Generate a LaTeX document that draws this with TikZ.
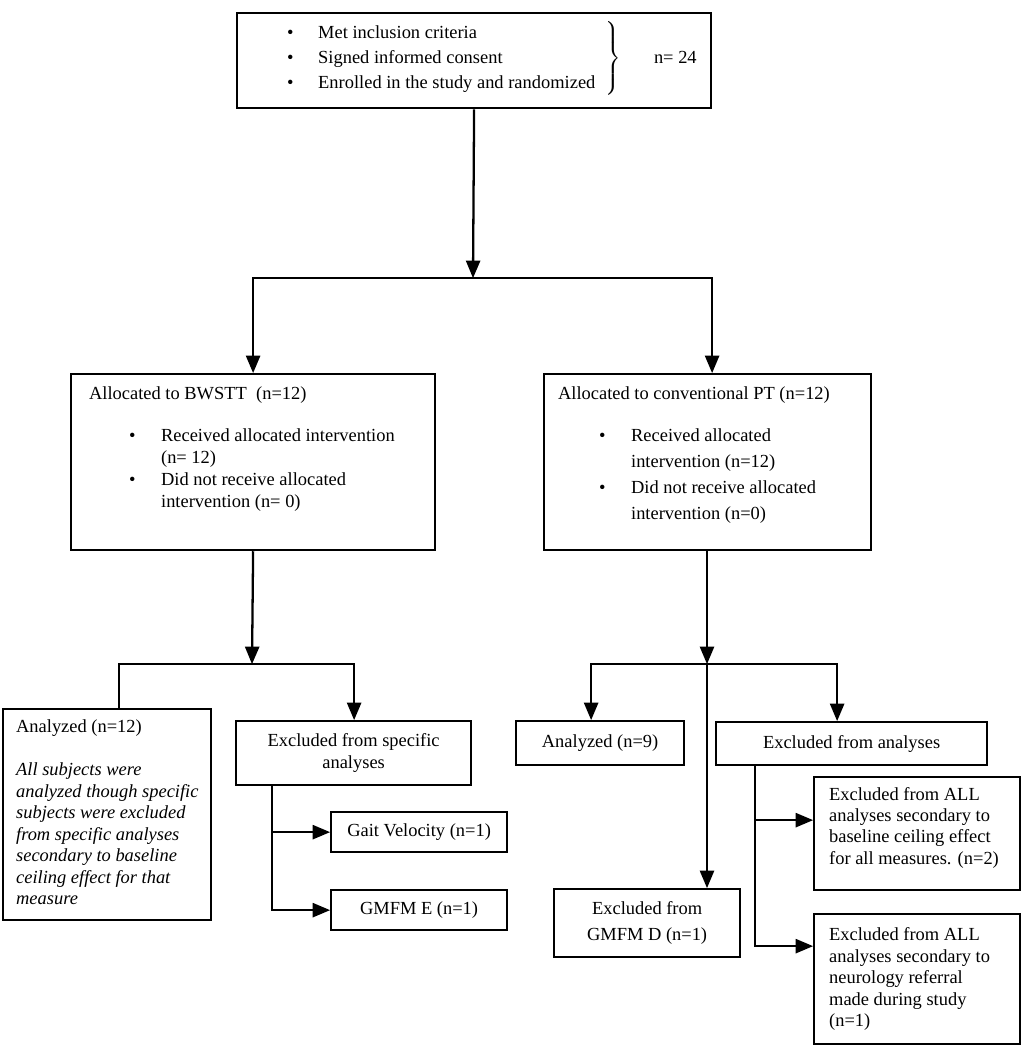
\documentclass[tikz,border=0pt]{standalone}
\usepackage{fontspec}
\setmainfont{Liberation Serif}
\usepackage{tikz}
\usetikzlibrary{arrows}

% box contents: width, height, vertical position, text
\newcommand{\cellbox}[4]{\begin{minipage}[t][#2][#3]{#1}#4\end{minipage}}
% one bullet paragraph: indent of the text, text
\newcommand{\bitem}[2]{{\setlength{\leftskip}{#1}\noindent\llap{\makebox[0.64cm][l]{\textbullet}}#2\par}}

\begin{document}
\begin{tikzpicture}[x=0.02cm,y=-0.02cm]
            \tikzstyle{box}=[draw,line width=1.3pt,anchor=north west,inner sep=0pt,font=\fontsize{10.5}{12.2}\selectfont]
            \tikzstyle{wire}=[line width=1.3pt]
            \tikzstyle{arr}=[line width=1.3pt,-triangle 45]
            \useasboundingbox (0,0) rectangle (1034,1050);

            \node[box] (enrol) at (236,12) {\cellbox{9.48cm}{1.9cm}{c}{\renewcommand{\arraystretch}{1.16}%
                \hspace*{0.96cm}$\left.\begin{tabular}{@{}l@{}}
                \makebox[0.62cm][l]{\textbullet}Met inclusion criteria\\
                \makebox[0.62cm][l]{\textbullet}Signed informed consent\\
                \makebox[0.62cm][l]{\textbullet}Enrolled in the study and randomized
                \end{tabular}\hspace{0.2cm}\right\}$\hspace{0.66cm}n= 24\par\vspace*{0.08cm}}};

            \node[box] (bwstt) at (70,373) {\cellbox{7.28cm}{3.52cm}{t}{\fontsize{10.5}{12.5}\selectfont
                \vspace*{0.26cm}\hspace*{0.36cm}Allocated to BWSTT\ \ (n=12)\par\vspace{0.4cm}
                \bitem{1.8cm}{Received allocated intervention\\(n= 12)}
                \bitem{1.8cm}{Did not receive allocated\\intervention (n= 0)}}};
            \node[box] (cpt) at (543,373) {\cellbox{6.54cm}{3.52cm}{t}{
                \vspace*{0.26cm}\hspace*{0.28cm}Allocated to conventional PT (n=12)\par\vspace{0.32cm}
                \fontsize{10.5}{14.7}\selectfont
                \bitem{1.74cm}{Received allocated\\intervention (n=12)}
                \bitem{1.74cm}{Did not receive allocated\\intervention (n=0)}}};

            \node[box] (an12) at (2,708) {\cellbox{4.16cm}{4.22cm}{t}{\setlength{\leftskip}{0.26cm}
                \vspace*{0.22cm}Analyzed (n=12)\par\vspace{0.43cm}
                \itshape All subjects were\\analyzed though specific\\subjects were excluded\\from specific analyses\\secondary to baseline\\ceiling effect for that\\measure}};
            \node[box] (exspec) at (235,720) {\cellbox{4.7cm}{1.28cm}{c}{\centering Excluded from specific\\analyses}};
            \node[box] (gait) at (330,811) {\cellbox{3.52cm}{0.8cm}{c}{\centering Gait Velocity (n=1)}};
            \node[box] (gmfme) at (330,889) {\cellbox{3.52cm}{0.8cm}{c}{\centering GMFM E (n=1)}};

            \node[box] (an9) at (515,720) {\cellbox{3.36cm}{0.88cm}{c}{\centering Analyzed (n=9)}};
            \node[box] (exan) at (715,721) {\cellbox{5.42cm}{0.86cm}{c}{\centering Excluded from analyses}};
            \node[box] (gmfmd) at (553,888) {\cellbox{3.72cm}{1.36cm}{c}{\fontsize{10.5}{14.7}\selectfont\centering Excluded from\\GMFM D (n=1)}};
            \node[box] (exall1) at (813,776) {\cellbox{4.12cm}{2.26cm}{c}{\setlength{\leftskip}{0.3cm}
                Excluded from ALL\\analyses secondary to\\baseline ceiling effect\\for all measures. (n=2)\par\vspace*{0.24cm}}};
            \node[box] (exall2) at (813,913) {\cellbox{4.12cm}{2.6cm}{c}{\setlength{\leftskip}{0.3cm}
                Excluded from ALL\\analyses secondary to\\neurology referral\\made during study\\(n=1)}};

            \coordinate (split1) at (473,278);
            \coordinate (split2) at (252,664);
            \coordinate (split3) at (707,664);

            \draw[arr] (enrol.south) -- (split1);
            \draw[arr] (split1) -| ([xshift=0.09cm]cpt.north);
            \draw[arr] (split1) -| (bwstt.north);

            \draw[arr] (bwstt.south) -- (split2);
            \draw[wire] (split2) -| ([xshift=0.24cm]an12.north);
            \draw[arr] (split2) -| ([xshift=0.01cm]exspec.north);
            \draw[arr] ([xshift=0.74cm]exspec.south west) |- (gait.west);
            \draw[arr] ([xshift=0.74cm]exspec.south west) |- (gmfme.west);

            \draw[arr] (cpt.south -| split3) -- (split3);
            \draw[arr] (split3) -| ([xshift=-0.18cm]an9.north);
            \draw[arr] (split3) -| ([xshift=-0.29cm]exan.north);
            \draw[arr] (split3) -- (split3 |- gmfmd.north);
            \draw[arr] ([xshift=0.8cm]exan.south west) |- ([yshift=0.27cm]exall1.west);
            \draw[arr] ([xshift=0.8cm]exan.south west) |- ([yshift=0.66cm]exall2.west);
        \end{tikzpicture}
\end{document}
